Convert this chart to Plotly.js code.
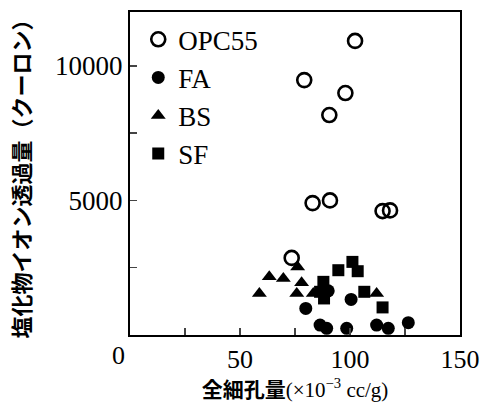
<!DOCTYPE html>
<html><head><meta charset="utf-8">
<script src="https://cdn.plot.ly/plotly-3.0.1.min.js"></script>
<style>html,body{margin:0;padding:0;background:#fff}#c{width:482px;height:403px}</style>
</head><body><div id="c"></div>
<script>
const seriesNames = ["OPC55", "FA", "BS", "SF"];
const opcX = [102.3, 79.2, 97.9, 90.6, 83.0, 90.9, 114.8, 118.2, 73.5];
const opcY = [10926, 9470, 8988, 8173, 4900, 5000, 4604, 4630, 2864];
const faX = [79.9, 100.5, 90.1, 86.4, 89.4, 98.5, 112.1, 117.4, 126.5];
const faY = [988, 1321, 1642, 370, 247, 247, 370, 247, 457];
const bsX = [58.8, 63.3, 69.7, 76.2, 78.0, 75.8, 83.3, 112.1];
const bsY = [1543, 2160, 2099, 2530, 1938, 1543, 1543, 1543];
const sfX = [87.9, 88.2, 94.7, 101.1, 103.5, 106.5, 114.8, 86.4];
const sfY = [1975, 1358, 2407, 2716, 2370, 1605, 1025, 1605];
const xTickVals = [50, 100, 150];
const xTickText = ["50", "100", "150"];
const yTickVals = [5000, 10000];
const yTickText = ["5000", "10000"];
const originLabel = "0";

const serif = "Liberation Serif, Times New Roman, serif";
const gothic = "Noto Sans CJK JP, sans-serif";

const traces = [
  {x: opcX, y: opcY, name: seriesNames[0], type: "scatter", mode: "markers",
   marker: {symbol: "circle-open", size: 14, color: "#000", line: {width: 2.6, color: "#000"}}},
  {x: faX, y: faY, name: seriesNames[1], type: "scatter", mode: "markers",
   marker: {symbol: "circle", size: 13, color: "#000"}},
  {x: bsX, y: bsY, name: seriesNames[2], type: "scatter", mode: "markers",
   marker: {symbol: "triangle-up", size: 13, color: "#000"}},
  {x: sfX, y: sfY, name: seriesNames[3], type: "scatter", mode: "markers",
   marker: {symbol: "square", size: 12, color: "#000"}}
];

const layout = {
  width: 482, height: 403,
  margin: {l: 130, r: 22, t: 12, b: 68},
  paper_bgcolor: "#fff", plot_bgcolor: "#fff",
  showlegend: true,
  legend: {x: 0.025, y: 0.99, xanchor: "left", yanchor: "top",
           font: {family: serif, size: 27, color: "#000"},
           bgcolor: "rgba(0,0,0,0)", itemwidth: 30, tracegroupgap: 0},
  xaxis: {range: [0, 150], tickvals: xTickVals, ticktext: xTickText, ticks: "inside", ticklen: 7, tickwidth: 1.5,
          showline: true, linewidth: 2, linecolor: "#000", mirror: true,
          showgrid: false, zeroline: false,
          minor: {dtick: 25, tick0: 0, ticks: "inside", ticklen: 7, tickwidth: 1.5, showgrid: false},
          tickfont: {family: serif, size: 26, color: "#000"},
          title: {text: '<span style="font-family:Noto Sans CJK JP;font-weight:bold">全細孔量</span>(×10<sup>−3</sup> cc/g)',
                  font: {family: serif, size: 21, color: "#000"}, standoff: 12}},
  yaxis: {range: [0, 12000], tickvals: yTickVals, ticktext: yTickText, ticks: "inside", ticklen: 7, tickwidth: 1.5,
          showline: true, linewidth: 2, linecolor: "#000", mirror: true,
          showgrid: false, zeroline: false,
          minor: {dtick: 2500, tick0: 0, ticks: "inside", ticklen: 7, tickwidth: 1.5, showgrid: false},
          tickfont: {family: serif, size: 27, color: "#000"},
          title: {text: "<b>塩化物イオン透過量（クーロン）</b>",
                  font: {family: gothic, size: 22, color: "#000"}, standoff: 18}},
  annotations: [{text: originLabel, xref: "paper", yref: "paper", x: 0, y: 0,
                 xanchor: "center", yanchor: "top", xshift: -12, yshift: -4, showarrow: false,
                 font: {family: serif, size: 26, color: "#000"}}]
};

Plotly.newPlot("c", traces, layout, {displayModeBar: false, staticPlot: true});
</script></body></html>
